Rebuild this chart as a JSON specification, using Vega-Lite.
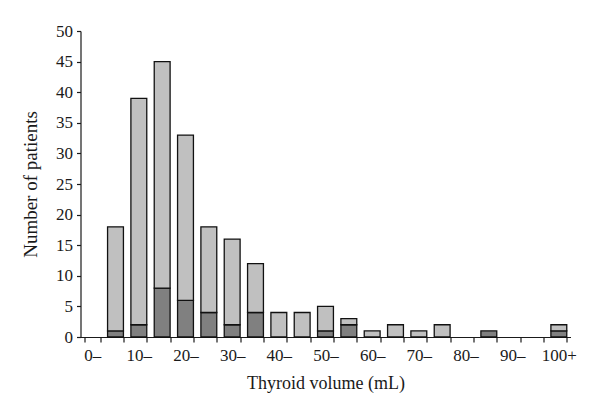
{
  "$schema": "https://vega.github.io/schema/vega-lite/v6.json",
  "width": 490,
  "height": 306,
  "autosize": {"type": "none"},
  "padding": {"left": 80.5, "top": 31, "right": 29.5, "bottom": 80},
  "background": "white",
  "config": {
    "view": {"stroke": null},
    "font": "Liberation Serif",
    "axis": {"labelFont": "Liberation Serif", "titleFont": "Liberation Serif", "labelColor": "#1a1a1a", "titleColor": "#1a1a1a", "domainColor": "#1a1a1a", "tickColor": "#1a1a1a", "domainWidth": 1.2, "tickWidth": 1.2, "labelFontSize": 17, "titleFontSize": 18, "titleFontWeight": "normal", "grid": false}
  },
  "data": {"values": [
    {"vol": "0–", "group": "dark", "n": 0}, {"vol": "0–", "group": "light", "n": 0},
    {"vol": "5–", "group": "dark", "n": 1}, {"vol": "5–", "group": "light", "n": 17},
    {"vol": "10–", "group": "dark", "n": 2}, {"vol": "10–", "group": "light", "n": 37},
    {"vol": "15–", "group": "dark", "n": 8}, {"vol": "15–", "group": "light", "n": 37},
    {"vol": "20–", "group": "dark", "n": 6}, {"vol": "20–", "group": "light", "n": 27},
    {"vol": "25–", "group": "dark", "n": 4}, {"vol": "25–", "group": "light", "n": 14},
    {"vol": "30–", "group": "dark", "n": 2}, {"vol": "30–", "group": "light", "n": 14},
    {"vol": "35–", "group": "dark", "n": 4}, {"vol": "35–", "group": "light", "n": 8},
    {"vol": "40–", "group": "dark", "n": 0}, {"vol": "40–", "group": "light", "n": 4},
    {"vol": "45–", "group": "dark", "n": 0}, {"vol": "45–", "group": "light", "n": 4},
    {"vol": "50–", "group": "dark", "n": 1}, {"vol": "50–", "group": "light", "n": 4},
    {"vol": "55–", "group": "dark", "n": 2}, {"vol": "55–", "group": "light", "n": 1},
    {"vol": "60–", "group": "dark", "n": 0}, {"vol": "60–", "group": "light", "n": 1},
    {"vol": "65–", "group": "dark", "n": 0}, {"vol": "65–", "group": "light", "n": 2},
    {"vol": "70–", "group": "dark", "n": 0}, {"vol": "70–", "group": "light", "n": 1},
    {"vol": "75–", "group": "dark", "n": 0}, {"vol": "75–", "group": "light", "n": 2},
    {"vol": "80–", "group": "dark", "n": 0}, {"vol": "80–", "group": "light", "n": 0},
    {"vol": "85–", "group": "dark", "n": 1}, {"vol": "85–", "group": "light", "n": 0},
    {"vol": "90–", "group": "dark", "n": 0}, {"vol": "90–", "group": "light", "n": 0},
    {"vol": "95–", "group": "dark", "n": 0}, {"vol": "95–", "group": "light", "n": 0},
    {"vol": "100+", "group": "dark", "n": 1}, {"vol": "100+", "group": "light", "n": 1}
  ]},
  "transform": [{"filter": "datum.n > 0"}],
  "mark": {"type": "bar", "stroke": "#111", "strokeWidth": 1.3},
  "encoding": {
    "x": {
      "field": "vol", "type": "nominal",
      "sort": ["0–","5–","10–","15–","20–","25–","30–","35–","40–","45–","50–","55–","60–","65–","70–","75–","80–","85–","90–","95–","100+"],
      "scale": {"domain": ["0–","5–","10–","15–","20–","25–","30–","35–","40–","45–","50–","55–","60–","65–","70–","75–","80–","85–","90–","95–","100+"], "paddingInner": 0.32, "paddingOuter": 0.16},
      "axis": {"title": "Thyroid volume (mL)", "labelAngle": 0, "tickBand": "extent", "tickSize": 5, "labelPadding": 5, "titlePadding": 11,
        "labelExpr": "indexof(['0–','10–','20–','30–','40–','50–','60–','70–','80–','90–','100+'], datum.value) >= 0 ? datum.value : ''"}
    },
    "y": {
      "field": "n", "type": "quantitative", "stack": "zero",
      "scale": {"domain": [0, 50]},
      "axis": {"title": "Number of patients", "titleFontSize": 19, "values": [0,5,10,15,20,25,30,35,40,45,50], "tickSize": 4, "labelPadding": 4, "titlePadding": 15}
    },
    "color": {"field": "group", "type": "nominal", "scale": {"domain": ["dark", "light"], "range": ["#808080", "#c0c0c0"]}, "legend": null},
    "order": {"field": "group", "sort": "ascending"}
  }
}
